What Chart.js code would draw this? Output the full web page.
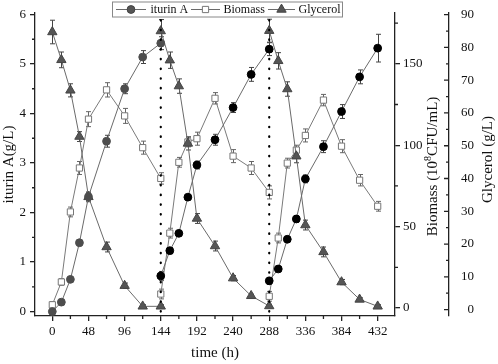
<!DOCTYPE html>
<html><head><meta charset="utf-8">
<script src="https://cdn.jsdelivr.net/npm/chart.js@4/dist/chart.umd.min.js"></script>
<style>html,body{margin:0;padding:0;background:#fff}#wrap{width:498px;height:364px;position:relative}</style>
</head><body><div id="wrap"><canvas id="c"></canvas></div>
<script>
// ---- data ----
const hours1 = [0,12,24,36,48,72,96,120,144];
const hours2 = [144,156,168,180,192,216,240,264,288];
const hours3 = [288,300,312,324,336,360,384,408,432];
const iturin1 = [0.00,0.19,0.65,1.39,2.32,3.44,4.50,5.14,5.42];
const iturin2 = [0.72,1.23,1.58,2.31,2.96,3.47,4.12,4.79,5.30];
const iturin3 = [0.62,0.86,1.46,1.87,2.68,3.33,4.04,4.74,5.32];
const iturinErr1 = [0.02,0.03,0.04,0.06,0.08,0.12,0.10,0.13,0.13];
const iturinErr2 = [0.09,0.06,0.05,0.05,0.08,0.11,0.10,0.14,0.13];
const iturinErr3 = [0.07,0.05,0.05,0.07,0.08,0.12,0.14,0.14,0.28];
const biomass1 = [2,16,59,86,116,134,118,98.5,79.6];
const biomass2 = [8.6,46,89.5,102,104,128.8,93.3,86,71];
const biomass3 = [7.2,43,89,97,106,127.7,99.4,78.5,62.5];
const biomassErr1 = [2,2,3,4,4.6,4.4,4.6,4,3.5];
const biomassErr2 = [3,3,3,3,4,3.5,4,4,4];
const biomassErr3 = [3,3,3,3,4,3.5,4,3.5,3];
const glycerol1 = [84.7,76.2,66.9,52.8,34.4,19.1,7.3,1.0,1.0];
const glycerol2 = [85.0,76.1,68.2,50.7,27.8,19.4,9.6,4.2,1.1];
const glycerol3 = [85.1,75.9,67.3,46.8,25.8,17.6,8.4,3.1,1.0];
const glycerolErr1 = [3.6,2.4,2.0,1.5,1.5,1.5,0.8,0.5,0.5];
const glycerolErr2 = [3.5,2.5,2.2,2.0,1.5,1.5,0.8,0.5,0.5];
const glycerolErr3 = [3.5,2.5,2.2,2.0,1.5,1.5,0.8,0.5,0.5];
const dividerHours = [144,288];
const dividerRange = [0,5.9];
const xTicks = [0,48,96,144,192,240,288,336,384,432];
const xMinor = [24,72,120,168,216,264,312,360,408];
const iturinTicks = [0,1,2,3,4,5,6];
const iturinMinor = [0.5,1.5,2.5,3.5,4.5,5.5];
const biomassTicks = [0,50,100,150];
const biomassMinor = [25,75,125,175];
const glycerolTicks = [0,10,20,30,40,50,60,70,80,90];
const glycerolMinor = [5,15,25,35,45,55,65,75,85];
const labels = ['iturin A','Biomass','Glycerol'];

// ---- build ----
function join(hs, vs, es){
  const d=[], e=[];
  hs.forEach((h,k)=>{ vs[k].forEach((v,i)=>{ d.push({x:h[i],y:v}); e.push(es[k][i]); }); if(k<hs.length-1){ d.push({x:h[h.length-1],y:null}); e.push(0);} });
  return {d,e};
}
const H=[hours1,hours2,hours3];
const it=join(H,[iturin1,iturin2,iturin3],[iturinErr1,iturinErr2,iturinErr3]);
const bm=join(H,[biomass1,biomass2,biomass3],[biomassErr1,biomassErr2,biomassErr3]);
const gl=join(H,[glycerol1,glycerol2,glycerol3],[glycerolErr1,glycerolErr2,glycerolErr3]);
const itColors = it.d.map((p,i)=> i<hours1.length ? '#4d4d4d' : '#000000');
const SERIF = '"Liberation Serif","Times New Roman",serif';

const datasets = [
  {label:labels[0], data:it.d, errors:it.e, yAxisID:'y', order:1, borderColor:'#6a6a6a', borderWidth:1,
   pointStyle:'circle', pointRadius:3.9, pointBackgroundColor:itColors, pointBorderColor:itColors, pointBorderWidth:1, errColor:'#444'},
  {label:labels[1], data:bm.d, errors:bm.e, yAxisID:'yB', order:3, borderColor:'#7a7a7a', borderWidth:1,
   pointStyle:'rect', pointRadius:4.4, pointBackgroundColor:'#ffffff', pointBorderColor:'#777', pointBorderWidth:1, errColor:'#666'},
  {label:labels[2], data:gl.d, errors:gl.e, yAxisID:'yG', order:2, borderColor:'#6a6a6a', borderWidth:1,
   pointStyle:'triangle', pointRadius:5.4, pointBackgroundColor:'#555', pointBorderColor:'#444', pointBorderWidth:1, errColor:'#444'}
];
dividerHours.forEach(h=>{
  datasets.push({label:'div', data:dividerRange.map(v=>({x:h,y:v})), yAxisID:'y', order:0, borderColor:'#000',
    borderWidth:2.2, borderDash:[0.5,9.2], borderCapStyle:'round', pointRadius:0, isDivider:true});
});

const errPlugin = {
  id:'errbars',
  beforeDatasetsDraw(chart){
    const ctx=chart.ctx, xs=chart.scales.x;
    chart.data.datasets.forEach((ds,i)=>{
      if(!ds.errors) return;
      const ys=chart.scales[ds.yAxisID];
      ctx.save(); ctx.strokeStyle=ds.errColor; ctx.lineWidth=1;
      ds.data.forEach((p,j)=>{
        const e=ds.errors[j]; if(p.y==null||!e) return;
        const x=Math.round(xs.getPixelForValue(p.x))+0.5, y1=ys.getPixelForValue(p.y+e), y2=ys.getPixelForValue(p.y-e);
        ctx.beginPath(); ctx.moveTo(x,y1); ctx.lineTo(x,y2);
        ctx.moveTo(x-2.5,y1); ctx.lineTo(x+2.5,y1); ctx.moveTo(x-2.5,y2); ctx.lineTo(x+2.5,y2); ctx.stroke();
      });
      ctx.restore();
    });
  }
};

function drawRotated(ctx, parts, cx, cy, font, supFont){
  ctx.save(); ctx.translate(cx,cy); ctx.rotate(-Math.PI/2);
  ctx.textBaseline='middle'; ctx.textAlign='left'; ctx.fillStyle='#111';
  let w=0; parts.forEach(p=>{ ctx.font=p.sup?supFont:font; w+=ctx.measureText(p.t).width; });
  let x=-w/2;
  parts.forEach(p=>{ ctx.font=p.sup?supFont:font; ctx.fillText(p.t,x,p.sup?-5:0); x+=ctx.measureText(p.t).width; });
  ctx.restore();
}

const decoPlugin = {
  id:'deco',
  afterDraw(chart){
    const ctx=chart.ctx, s=chart.scales, a=chart.chartArea;
    ctx.save();
    ctx.strokeStyle='#222'; ctx.lineWidth=1.3;
    // minor ticks
    ctx.beginPath();
    xMinor.forEach(v=>{const x=s.x.getPixelForValue(v); ctx.moveTo(x,a.bottom); ctx.lineTo(x,a.bottom+3);});
    iturinMinor.forEach(v=>{const y=s.y.getPixelForValue(v); ctx.moveTo(a.left,y); ctx.lineTo(a.left-3,y);});
    biomassMinor.forEach(v=>{const y=s.yB.getPixelForValue(v); ctx.moveTo(s.yB.left,y); ctx.lineTo(s.yB.left+3,y);});
    const gx=s.yG.left;
    glycerolMinor.forEach(v=>{const y=s.yG.getPixelForValue(v); ctx.moveTo(gx,y); ctx.lineTo(gx-3,y);});
    glycerolTicks.forEach(v=>{const y=s.yG.getPixelForValue(v); ctx.moveTo(gx,y); ctx.lineTo(gx-5,y);});
    ctx.stroke();
    // glycerol tick labels, right-aligned
    ctx.font='13px '+SERIF; ctx.fillStyle='#111'; ctx.textAlign='right'; ctx.textBaseline='middle';
    glycerolTicks.forEach(v=>{ ctx.fillText(String(v), gx+25, s.yG.getPixelForValue(v)); });
    // axis titles
    const f='15px '+SERIF, sf='10px '+SERIF;
    drawRotated(ctx,[{t:'iturin A(g/L)'}], 9, (a.top+a.bottom)/2, f, sf);
    drawRotated(ctx,[{t:'Biomass (10'},{t:'8',sup:true},{t:'CFU/mL)'}], s.yB.right-16, (a.top+a.bottom)/2+2, f, sf);
    drawRotated(ctx,[{t:'Glycerol (g/L)'}], s.yG.right-10, (a.top+a.bottom)/2-5, f, sf);
    ctx.font=f; ctx.fillStyle='#111'; ctx.textAlign='center'; ctx.textBaseline='middle';
    ctx.fillText('time (h)', (a.left+a.right)/2, 353);
    // legend
    const lx=112, ly=1.5, lw=230, lh=15;
    ctx.fillStyle='#fff'; ctx.fillRect(lx,ly,lw,lh);
    ctx.strokeStyle='#888'; ctx.lineWidth=1; ctx.strokeRect(lx+0.5,ly+0.5,lw,lh);
    const items=[{x0:116,x1:146,tx:150.5,k:0},{x0:191,x1:220,tx:223.5,k:1},{x0:268,x1:295,tx:298.5,k:2}];
    const my=ly+lh/2+0.5;
    items.forEach(it=>{
      const ds=chart.data.datasets[it.k];
      ctx.strokeStyle='#6a6a6a'; ctx.lineWidth=1; ctx.beginPath(); ctx.moveTo(it.x0,my); ctx.lineTo(it.x1,my); ctx.stroke();
      const cx=(it.x0+it.x1)/2;
      ctx.fillStyle = it.k===1?'#fff':'#555'; ctx.strokeStyle= it.k===1?'#777':'#444';
      Chart.helpers.drawPoint(ctx,{pointStyle:ds.pointStyle,radius:ds.pointRadius,borderWidth:1,rotation:0},cx,my);
      ctx.fillStyle='#111'; ctx.font='12px '+SERIF; ctx.textAlign='left'; ctx.textBaseline='middle';
      ctx.fillText(labels[it.k], it.tx, my);
    });
    ctx.restore();
  }
};

const tickFont = {family:SERIF, size:13};
const axisBase = (extra)=>Object.assign({
  type:'linear',
  grid:{display:true, drawOnChartArea:false, drawTicks:true, tickLength:5, color:'#222', lineWidth:1.3},
  border:{display:true, color:'#222', width:1.3},
  ticks:{font:tickFont, color:'#111', padding:4}
}, extra);

new Chart(document.getElementById('c'), {
  type:'line',
  data:{datasets},
  options:{
    responsive:true, maintainAspectRatio:false, animation:false,
    layout:{padding:{top:13,left:0,right:0,bottom:0}},
    plugins:{legend:{display:false}, tooltip:{enabled:false}},
    elements:{line:{tension:0}},
    spanGaps:false,
    scales:{
      x: axisBase({position:'bottom', min:-23, max:455,
        ticks:{font:tickFont, color:'#111', padding:3, maxRotation:0},
        afterBuildTicks:sc=>{sc.ticks=xTicks.map(v=>({value:v}));},
        afterFit:sc=>{sc.height=48;}}),
      y: axisBase({position:'left', min:-0.09, max:6.03,
        afterBuildTicks:sc=>{sc.ticks=iturinTicks.map(v=>({value:v}));},
        afterFit:sc=>{sc.width=35;}}),
      yB: axisBase({position:'right', weight:0, min:-4.9, max:181.2,
        ticks:{font:tickFont, color:'#111', padding:3},
        afterBuildTicks:sc=>{sc.ticks=biomassTicks.map(v=>({value:v}));},
        afterFit:sc=>{sc.width=54;}}),
      yG: axisBase({position:'right', weight:1, min:-1.95, max:90.5,
        grid:{display:true, drawOnChartArea:false, drawTicks:false, color:'#222', lineWidth:1.3},
        ticks:{display:false},
        afterBuildTicks:sc=>{sc.ticks=glycerolTicks.map(v=>({value:v}));},
        afterFit:sc=>{sc.width=49;}})
    }
  },
  plugins:[errPlugin, decoPlugin]
});
</script></body></html>
